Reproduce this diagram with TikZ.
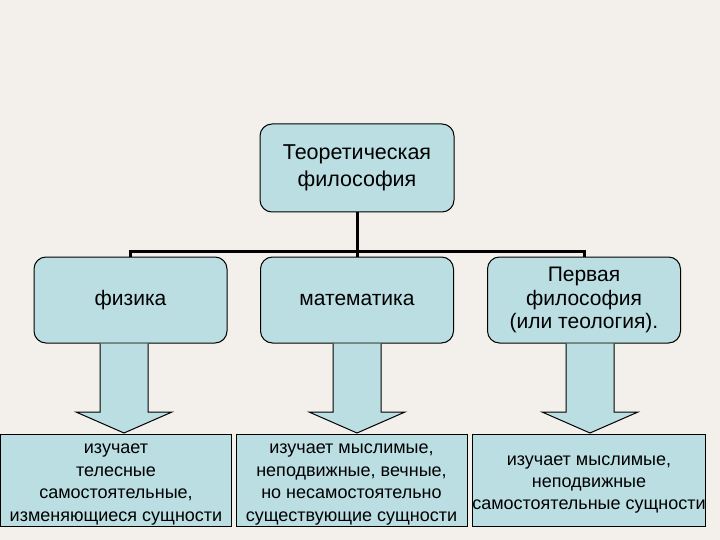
\documentclass[tikz,border=0pt]{standalone}
\usepackage{fontspec}
\setmainfont{Liberation Sans}
\usetikzlibrary{calc}
\definecolor{paper}{HTML}{F3F0EC}
\definecolor{boxblue}{HTML}{BADEE2}
% lower box text sits a little below the middle
\newcommand\lowtext[1]{\raisebox{-3pt}[\height][\depth]{\begin{tabular}{@{}c@{}}#1\end{tabular}}}
\begin{document}
\begin{tikzpicture}[x=1pt,y=-1pt,
  topbox/.style={draw,line width=1pt,fill=boxblue,rounded corners=12pt,align=center,inner sep=0pt,font=\fontsize{21.5}{27}\selectfont},
  midbox/.style={draw,line width=1pt,fill=boxblue,rounded corners=12pt,align=center,inner sep=0pt,minimum width=193pt,minimum height=86pt,font=\fontsize{21}{23.5}\selectfont},
  lowbox/.style={draw,line width=1pt,fill=boxblue,inner sep=0pt,minimum width=231pt,minimum height=92pt,font=\fontsize{18}{22.4}\selectfont},
  tree/.style={line width=3pt},
  barrow/.style={draw,fill=boxblue,line width=1pt,line join=miter}]
\fill[paper] (0,0) rectangle (720,540);
\useasboundingbox (0,0) rectangle (720,540);
\node[topbox,minimum width=194pt,minimum height=88pt] (theo) at (357,168) {Теоретическая\\философия};
\node[midbox] (fiz) at (130.5,300) {физика};
\node[midbox] (mat) at (357,300) {математика};
\node[midbox] (phil) at (584,300) {Первая\\философия\\(или теология).};
\node[lowbox] (fizt) at (116,480) {\lowtext{изучает\\телесные\\самостоятельные,\\изменяющиеся сущности}};
\node[lowbox] (matt) at (351.5,480) {\lowtext{изучает мыслимые,\\неподвижные, вечные,\\но несамостоятельно\\существующие сущности}};
\node[lowbox,minimum width=232pt] (philt) at (589,480) {\lowtext{изучает мыслимые,\\неподвижные\\самостоятельные сущности}};
\coordinate (bus) at (357,251);
\draw[tree] (theo.south) -- (mat.north);
\draw[tree] (fiz.north) |- (bus) -| (phil.north);
% block arrows down to the lower boxes
\coordinate (t1) at (124,433);
\coordinate (t2) at (357,433);
\coordinate (t3) at (590,433);
\foreach \up/\tip in {fiz/t1,mat/t2,phil/t3}
  \draw[barrow] ($(\tip|-\up.south)+(-24,0)$) -- ($(\tip)+(-24,-21)$) -- ($(\tip)+(-48,-21)$) -- (\tip)
    -- ($(\tip)+(48,-21)$) -- ($(\tip)+(24,-21)$) -- ($(\tip|-\up.south)+(24,0)$);
\end{tikzpicture}
\end{document}
